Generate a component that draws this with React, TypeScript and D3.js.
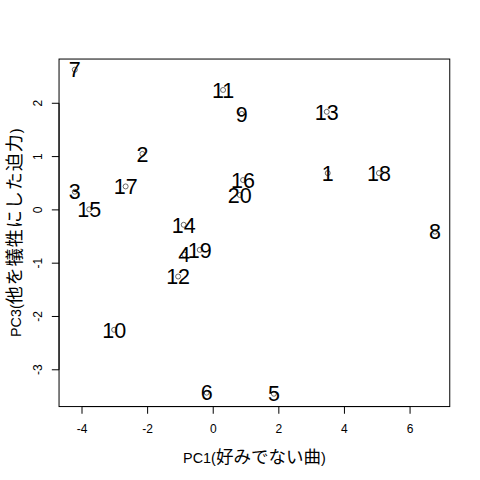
import React from "react";
import { scaleLinear } from "d3";

// song number, PC1 score, PC3 score
const songs = ["1", "2", "3", "4", "5", "6", "7", "8", "9", "10", "11", "12", "13", "14", "15", "16", "17", "18", "19", "20"];
const pc1 = [3.49, -2.16, -4.22, -0.88, 1.85, -0.2, -4.22, 6.76, 0.87, -3.02, 0.3, -1.07, 3.46, -0.9, -3.78, 0.91, -2.67, 5.05, -0.41, 0.81];
const pc3 = [0.69, 1.05, 0.34, -0.84, -3.45, -3.43, 2.63, -0.41, 1.8, -2.25, 2.25, -1.25, 1.84, -0.28, 0.01, 0.56, 0.44, 0.69, -0.75, 0.28];

const xTicks = [-4, -2, 0, 2, 4, 6];
const yTicks = [-3, -2, -1, 0, 1, 2];

// axis titles split into latin / japanese parts
const xLabel = ["PC1(", "好みでない曲", ")"];
const yLabel = ["PC3(", "他を犠牲にした迫力", ")"];

const W = 480;
const H = 480;
const margin = { top: 59.04, right: 30.24, bottom: 73.44, left: 59.04 };
const font = "'Liberation Sans', Arial, 'Noto Sans CJK JP', sans-serif";
const cjk = "'Noto Sans CJK JP', sans-serif";

export default function App() {
    const x = scaleLinear().domain([-4.7, 7.21]).range([margin.left, W - margin.right]);
    const y = scaleLinear().domain([-3.69, 2.83]).range([H - margin.bottom, margin.top]);

    const bottom = H - margin.bottom;
    const left = margin.left;

    return (
        <svg
            width={W}
            height={H}
            viewBox={`0 0 ${W} ${H}`}
            style={{ position: "absolute", left: 0, top: 0, background: "white" }}
            fontFamily={font}
        >
            {/* box */}
            <rect
                x={margin.left}
                y={margin.top}
                width={W - margin.left - margin.right}
                height={H - margin.top - margin.bottom}
                fill="none"
                stroke="#000"
                strokeWidth={1}
            />

            {/* x axis */}
            <line x1={x(xTicks[0])} x2={x(xTicks[xTicks.length - 1])} y1={bottom} y2={bottom} stroke="#000" />
            {xTicks.map(t => (
                <g key={"x" + t}>
                    <line x1={x(t)} x2={x(t)} y1={bottom} y2={bottom + 7.2} stroke="#000" />
                    <text x={x(t)} y={433} textAnchor="middle" fontSize={12}>
                        {t}
                    </text>
                </g>
            ))}

            {/* y axis */}
            <line x1={left} x2={left} y1={y(yTicks[0])} y2={y(yTicks[yTicks.length - 1])} stroke="#000" />
            {yTicks.map(t => (
                <g key={"y" + t}>
                    <line x1={left - 7.2} x2={left} y1={y(t)} y2={y(t)} stroke="#000" />
                    <text
                        transform={`translate(42, ${y(t)}) rotate(-90)`}
                        textAnchor="middle"
                        fontSize={12}
                    >
                        {t}
                    </text>
                </g>
            ))}

            {/* axis titles */}
            <text
                x={(margin.left + W - margin.right) / 2}
                y={463}
                textAnchor="middle"
                fontSize={14.4}
            >
                <tspan>{xLabel[0]}</tspan>
                <tspan fontFamily={cjk} fontSize={17.5}>{xLabel[1]}</tspan>
                <tspan>{xLabel[2]}</tspan>
            </text>
            <text
                transform={`translate(21, ${(margin.top + H - margin.bottom) / 2}) rotate(-90)`}
                textAnchor="middle"
                fontSize={14.4}
            >
                <tspan>{yLabel[0]}</tspan>
                <tspan fontFamily={cjk} fontSize={18} letterSpacing={1}>{yLabel[1]}</tspan>
                <tspan>{yLabel[2]}</tspan>
            </text>

            {/* points and labels */}
            {songs.map((s, i) => (
                <g key={s}>
                    <circle cx={x(pc1[i])} cy={y(pc3[i])} r={2.5} fill="none" stroke="#444" strokeWidth={0.8} />
                    <text
                        x={x(pc1[i])}
                        y={y(pc3[i])}
                        dy="0.358em"
                        textAnchor="middle"
                        fontSize={21.5}
                    >
                        {s}
                    </text>
                </g>
            ))}
        </svg>
    );
}
